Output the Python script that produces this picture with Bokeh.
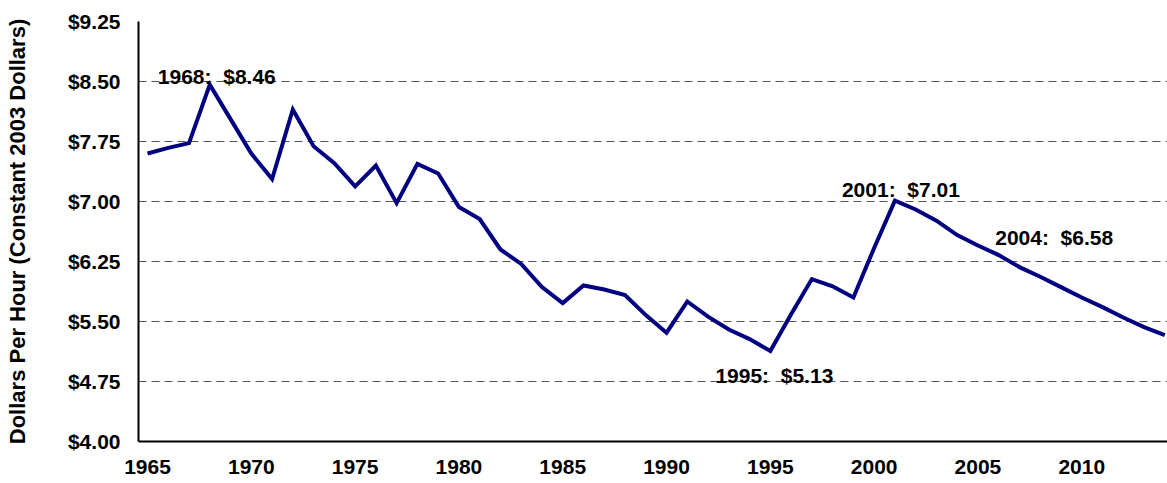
from bokeh.plotting import figure
from bokeh.models import FixedTicker, NumeralTickFormatter, Range1d
from bokeh.embed import file_html
from bokeh.resources import INLINE
from bokeh.core.properties import value

years = list(range(1965, 2015))
wage = [7.60, 7.67, 7.73, 8.46, 8.03, 7.60, 7.28, 8.15, 7.69, 7.48,
        7.19, 7.45, 6.98, 7.47, 7.35, 6.93, 6.78, 6.40, 6.22, 5.93,
        5.73, 5.95, 5.90, 5.83, 5.58, 5.36, 5.75, 5.56, 5.40, 5.28,
        5.13, 5.59, 6.03, 5.94, 5.80, 6.42, 7.01, 6.90, 6.76, 6.58,
        6.45, 6.33, 6.18, 6.06, 5.93, 5.80, 5.68, 5.55, 5.43, 5.33]
y_ticks = [4.00, 4.75, 5.50, 6.25, 7.00, 7.75, 8.50, 9.25]
x_ticks = [1965, 1970, 1975, 1980, 1985, 1990, 1995, 2000, 2005, 2010]
ann_years = [1968, 1995, 2001, 2004]
ann_values = [8.46, 5.13, 7.01, 6.58]
ann_labels = ["1968:\u00a0\u00a0$8.46", "1995:\u00a0\u00a0$5.13",
              "2001:\u00a0\u00a0$7.01", "2004:\u00a0\u00a0$6.58"]

# pixel offsets of each annotation relative to its data point
ann_offsets = [(7, -8), (4, 24), (6, -11), (97, 2)]

FONT = "Liberation Sans"

p = figure(width=1167, height=483, output_backend="svg", toolbar_location=None,
           x_range=Range1d(1964.566, 2014.13), y_range=Range1d(4.0, 9.25),
           min_border_left=138, min_border_right=0, min_border_top=21,
           min_border_bottom=42)
p.outline_line_color = None
p.background_fill_color = "white"
p.border_fill_color = "white"

p.line(years, wage, line_color="#000080", line_width=4, line_join="miter")

for yr, v, lab, (dx, dy) in zip(ann_years, ann_values, ann_labels, ann_offsets):
    p.text(x=[yr], y=[v], text=[lab], x_offset=dx, y_offset=dy,
           text_align="center", text_baseline="alphabetic",
           text_font=value(FONT), text_font_style="bold",
           text_font_size="21px", text_color="black")

p.xgrid.visible = False
p.ygrid.ticker = FixedTicker(ticks=y_ticks)
p.ygrid.grid_line_color = "#555555"
p.ygrid.grid_line_dash = "8 5"
p.ygrid.grid_line_width = 1

p.xaxis.ticker = FixedTicker(ticks=x_ticks)
p.yaxis.ticker = FixedTicker(ticks=y_ticks)
p.yaxis.formatter = NumeralTickFormatter(format="$0.00")

for ax in (p.xaxis[0], p.yaxis[0]):
    ax.axis_line_color = "black"
    ax.axis_line_width = 2
    ax.major_tick_line_color = None
    ax.minor_tick_line_color = None
    ax.major_tick_out = 0
    ax.major_tick_in = 0
    ax.minor_tick_out = 0
    ax.major_label_text_font = FONT
    ax.major_label_text_font_style = "bold"
    ax.major_label_text_font_size = "21px"
    ax.major_label_text_color = "black"

p.xaxis.major_label_standoff = 18
p.yaxis.major_label_standoff = 18
p.yaxis.axis_label = "Dollars Per Hour (Constant 2003 Dollars)"
p.yaxis.axis_label_text_font = FONT
p.yaxis.axis_label_text_font_style = "bold"
p.yaxis.axis_label_text_font_size = "22px"
p.yaxis.axis_label_text_color = "black"
p.yaxis.axis_label_standoff = 35

open("out.html", "w").write(file_html(p, INLINE))
